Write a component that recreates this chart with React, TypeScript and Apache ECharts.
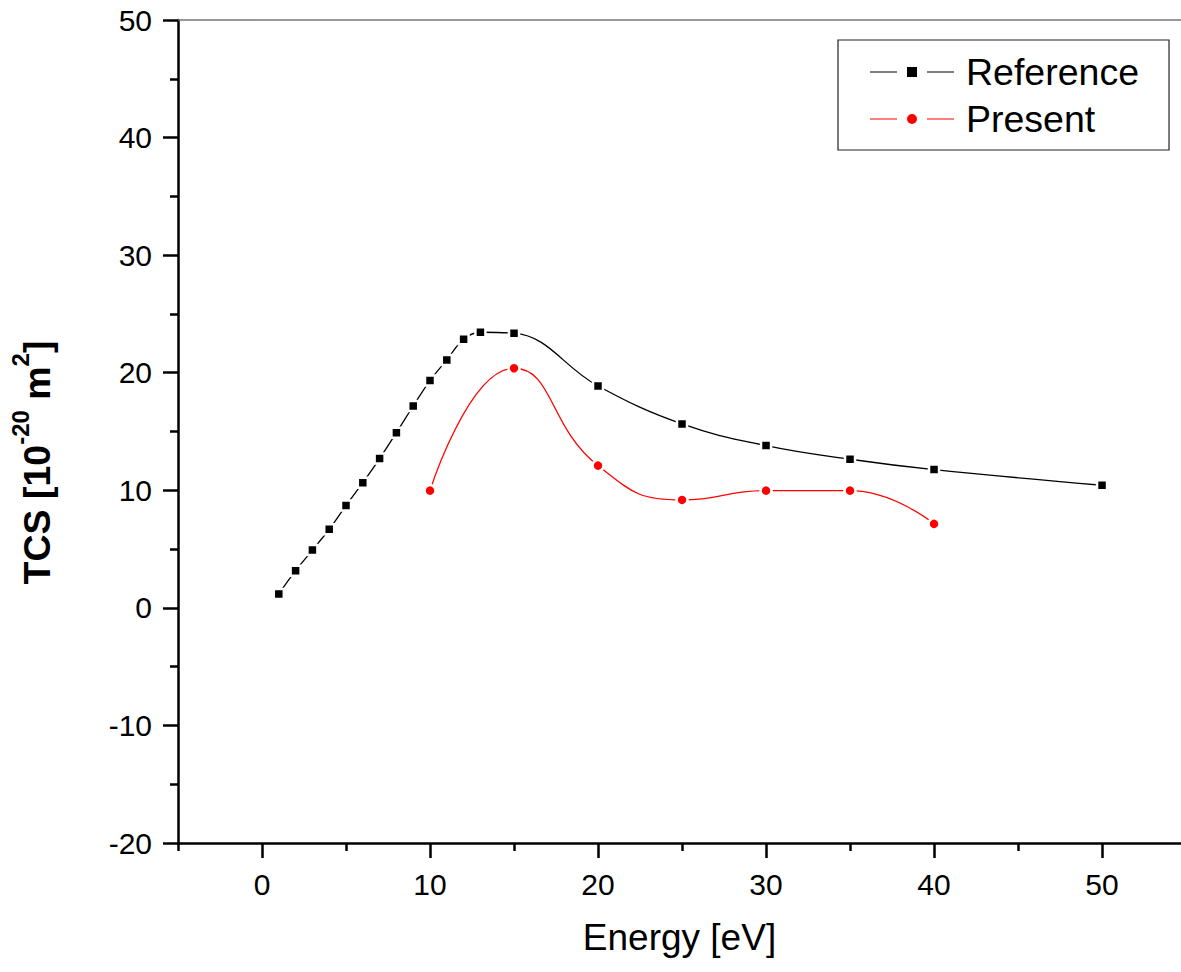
import React, { useEffect, useRef } from "react";
import * as echarts from "echarts";

const refEnergy = [1, 2, 3, 4, 5, 6, 7, 8, 9, 10, 11, 12, 13, 15, 20, 25, 30, 35, 40, 50];
const refTCS = [1.18, 3.16, 4.92, 6.68, 8.7, 10.65, 12.7, 14.9, 17.17, 19.33, 21.09, 22.85, 23.44, 23.36, 18.87, 15.64, 13.8, 12.64, 11.76, 10.43];
const presEnergy = [10, 15, 20, 25, 30, 35, 40];
const presTCS = [9.97, 20.38, 12.1, 9.18, 9.97, 9.97, 7.14];
const xMajorTicks = [0, 10, 20, 30, 40, 50];
const xMinorTicks = [-5, 5, 15, 25, 35, 45];

const FONT = "'Liberation Sans', Arial, sans-serif";

const ICON_SQUARE = "path://M0,4.4h27v1.2h-27z M37,0h10v10h-10z M57,4.4h27v1.2h-27z";
const ICON_CIRCLE = "path://M0,4.4h27v1.2h-27z M37,5a5,5 0 1,0 10,0a5,5 0 1,0 -10,0z M57,4.4h27v1.2h-27z";

export default function App() {
  const ref = useRef<HTMLDivElement>(null);
  useEffect(() => {
    const chart = echarts.init(ref.current!, null, { renderer: "svg" });
    const axisLineStyle = { color: "#000", width: 2.5 };
    chart.setOption({
      animation: false,
      backgroundColor: "#fff",
      grid: { left: 178, top: 20, right: 0, bottom: 129, containLabel: false },
      legend: {
        orient: "vertical",
        left: 838,
        top: 40,
        padding: [13, 30, 12, 32],
        itemGap: 9,
        itemWidth: 84,
        itemHeight: 10,
        symbolKeepAspect: false,
        borderColor: "#222",
        borderWidth: 1.2,
        textStyle: { fontSize: 37.5, lineHeight: 38, fontFamily: FONT, color: "#000", padding: [0, 0, 0, 7] },
        data: [
          { name: "Reference", icon: ICON_SQUARE, itemStyle: { color: "#000", borderWidth: 0 } },
          { name: "Present", icon: ICON_CIRCLE, itemStyle: { color: "#f00", borderWidth: 0 } },
        ],
      },
      xAxis: [
        {
          type: "value",
          min: -5,
          max: 54.7,
          position: "bottom",
          splitLine: { show: false },
          axisLine: { show: true, onZero: false, lineStyle: axisLineStyle },
          axisTick: { show: true, length: 15, lineStyle: axisLineStyle, customValues: xMajorTicks },
          axisLabel: { fontSize: 30, fontFamily: FONT, color: "#000", margin: 26, customValues: xMajorTicks },
          name: "Energy [eV]",
          nameLocation: "middle",
          nameGap: 76,
          nameTextStyle: { fontSize: 37, fontFamily: FONT, color: "#000" },
        },
        {
          type: "value",
          min: -5,
          max: 54.7,
          position: "bottom",
          splitLine: { show: false },
          axisLine: { show: false, onZero: false },
          axisTick: { show: true, length: 8, lineStyle: axisLineStyle, customValues: xMinorTicks },
          axisLabel: { show: false },
        },
        {
          type: "value",
          min: -5,
          max: 54.7,
          position: "top",
          splitLine: { show: false },
          axisLine: { show: true, onZero: false, lineStyle: { color: "#777", width: 1.5 } },
          axisTick: { show: false },
          axisLabel: { show: false },
        },
      ],
      yAxis: {
        type: "value",
        min: -20,
        max: 50,
        interval: 10,
        splitLine: { show: false },
        axisLine: { show: true, onZero: false, lineStyle: axisLineStyle },
        axisTick: { show: true, length: 15, lineStyle: axisLineStyle },
        minorTick: { show: true, splitNumber: 2, length: 8, lineStyle: axisLineStyle },
        minorSplitLine: { show: false },
        axisLabel: { fontSize: 30, fontFamily: FONT, color: "#000", margin: 26 },
        name: "{b|TCS [10}{s|-20}{b| m}{s|2}{b|]}",
        nameLocation: "middle",
        nameRotate: 90,
        nameGap: 122,
        nameTextStyle: {
          padding: [0, 62, 0, 0],
          rich: {
            b: { fontSize: 37.5, fontWeight: "bold", fontFamily: FONT, color: "#000", lineHeight: 48, verticalAlign: "bottom" },
            s: { fontSize: 24, fontWeight: "bold", fontFamily: FONT, color: "#000", lineHeight: 48, verticalAlign: "top" },
          },
        },
      },
      series: [
        {
          name: "Reference",
          type: "line",
          xAxisIndex: 0,
          data: refEnergy.map((e, i) => [e, refTCS[i]]),
          smooth: 0.4,
          symbol: "rect",
          symbolSize: 10,
          color: "#000",
          lineStyle: { color: "#000", width: 1.3 },
          itemStyle: { color: "#000", borderColor: "#fff", borderWidth: 2.5 },
        },
        {
          name: "Present",
          type: "line",
          xAxisIndex: 0,
          data: presEnergy.map((e, i) => [e, presTCS[i]]),
          smooth: 0.5,
          symbol: "circle",
          symbolSize: 11,
          color: "#f00",
          lineStyle: { color: "#f00", width: 1.3 },
          itemStyle: { color: "#f00", borderColor: "#fff", borderWidth: 2.5 },
        },
      ],
    });
    return () => chart.dispose();
  }, []);
  return (
    <div
      ref={ref}
      style={{ position: "fixed", left: 0, top: 0, width: 1181, height: 972, background: "#fff" }}
    />
  );
}
